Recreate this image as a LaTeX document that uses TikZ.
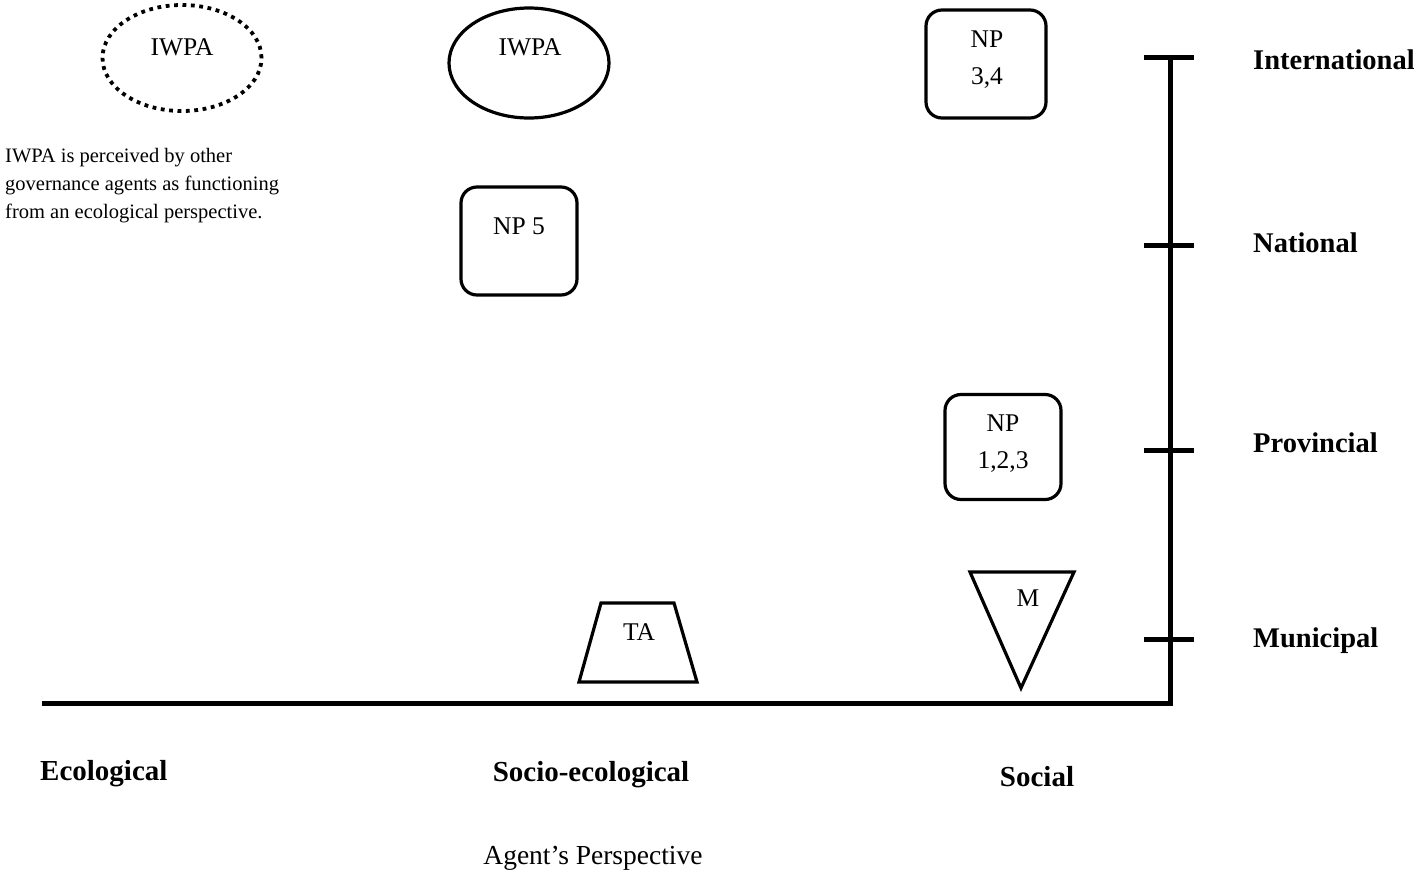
\documentclass[tikz,border=0pt]{standalone}
\usepackage{fontspec}
\setmainfont{Liberation Serif}
\usetikzlibrary{shapes.geometric}
\begin{document}
\begin{tikzpicture}[x=1pt,y=-1pt,
  shapeline/.style={draw=black,line width=3.2pt},
  agentbox/.style={shapeline,rounded corners=16pt},
  txt/.style={font=\fontsize{25.5}{29}\selectfont,inner sep=0pt},
  scalelab/.style={font=\fontsize{28.5}{32}\selectfont\bfseries,inner sep=0pt,anchor=west},
  perlab/.style={font=\fontsize{29}{32}\selectfont\bfseries,inner sep=0pt},
  axisline/.style={line width=5pt,line join=miter},
  tick/.style={line width=5pt}]
\useasboundingbox (0,0) rectangle (1414,871);

% ellipses
\node[ellipse,draw=black,line width=3.8pt,dash pattern=on 3.8pt off 4.6pt,
  minimum width=159pt,minimum height=106pt,inner sep=0pt] (iwpa1) at (182,58) {};
\node[txt] (iwpa1t) at (182,47) {IWPA};
\node[ellipse,shapeline,minimum width=160pt,minimum height=110pt,inner sep=0pt] (iwpa2) at (529,63) {};
\node[txt] (iwpa2t) at (530,47) {IWPA};

% explanation
\node[inner sep=0pt,anchor=north west,align=left,font=\fontsize{20.5}{28}\selectfont] (expl) at (5,148)
  {IWPA is perceived by other\\governance agents as functioning\\from an ecological perspective.};

% rounded boxes
\node[agentbox,minimum width=116pt,minimum height=108pt,inner sep=0pt] (np5) at (519,241) {};
\node[txt] (np5t) at (519,226) {NP 5};
\node[agentbox,minimum width=120pt,minimum height=108pt,inner sep=0pt] (np34) at (986,64) {};
\node[txt,align=center,font=\fontsize{25.5}{37}\selectfont] (np34t) at (987,60) {NP\\3,4};
\node[agentbox,minimum width=116pt,minimum height=105pt,inner sep=0pt] (np123) at (1003,447) {};
\node[txt,align=center,font=\fontsize{25.5}{37}\selectfont] (np123t) at (1003,444) {NP\\1,2,3};

% trapezoid TA
\coordinate (ta1) at (579,682);
\coordinate (ta2) at (601,603);
\coordinate (ta3) at (674,603);
\coordinate (ta4) at (697,682);
\draw[shapeline,line join=miter] (ta1) -- (ta2) -- (ta3) -- (ta4) -- cycle;
\node[txt] (tat) at (639,632) {TA};

% triangle M
\coordinate (m1) at (970,572);
\coordinate (m2) at (1074,572);
\coordinate (m3) at (1021,688);
\draw[shapeline,line join=miter] (m1) -- (m2) -- (m3) -- cycle;
\node[txt] (mt) at (1028,598) {M};

% axes
\coordinate (xl) at (42,703);
\coordinate (corner) at (1170,703);
\coordinate (ytop) at (1170,57);
\draw[axisline] (xl) -- (corner) -- (ytop);
\foreach \yy/\nm in {57/intl,245/natl,450/prov,639/muni}{
  \coordinate (\nm L) at (1144,\yy);
  \coordinate (\nm R) at (1194,\yy);
  \draw[tick] (\nm L) -- (\nm R);
}
\node[scalelab] (intlab) at (1253,60) {International};
\node[scalelab] (natlab) at (1253,243) {National};
\node[scalelab] (provlab) at (1253,443) {Provincial};
\node[scalelab] (munlab) at (1253,641) {Municipal};

\node[perlab,anchor=west] (eco) at (40,774) {Ecological};
\node[perlab] (soceco) at (591,775) {Socio-ecological};
\node[perlab] (soc) at (1037,777) {Social};
\node[inner sep=0pt,font=\fontsize{27.5}{31}\selectfont] (agent) at (593,858) {Agent’s Perspective};
\end{tikzpicture}
\end{document}
